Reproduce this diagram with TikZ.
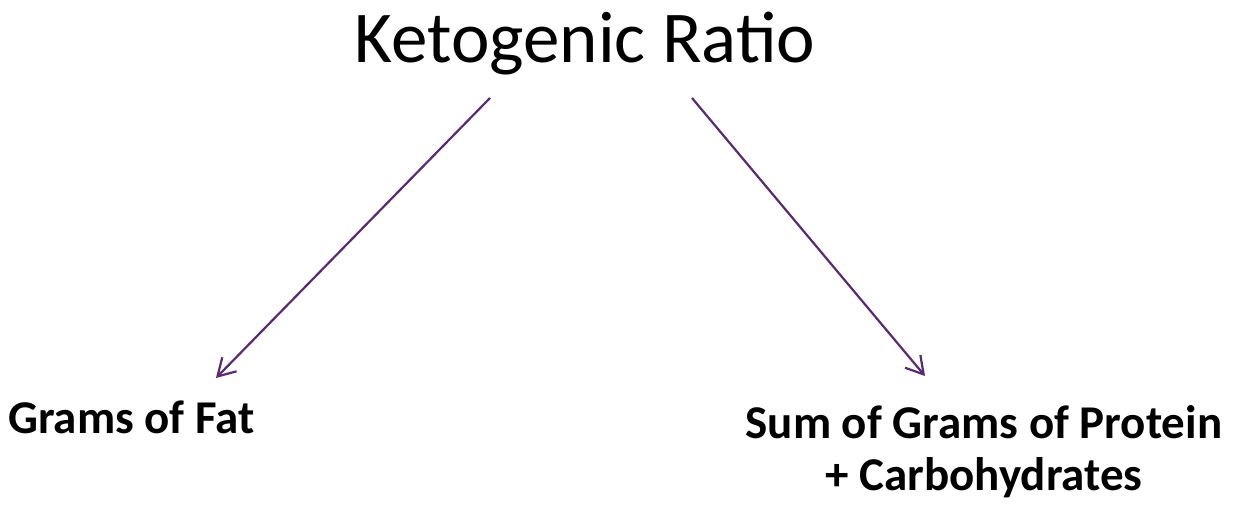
\documentclass[tikz,border=0pt]{standalone}
\usepackage{fontspec}
\setmainfont{Carlito}
\usetikzlibrary{arrows.meta}
\definecolor{arrowpurple}{HTML}{582A72}
\tikzset{
  conn/.style={draw=arrowpurple, line width=2.2pt, -{Straight Barb[length=17pt,width=20pt,line width=2.2pt]}},
  lbl/.style={font=\fontsize{47}{52}\selectfont\bfseries, inner sep=0pt, align=center},
  ttl/.style={font=\fontsize{73}{80}\selectfont, inner sep=0pt}
}
\begin{document}
\begin{tikzpicture}[x=1pt,y=-1pt]
\useasboundingbox (0,0) rectangle (1240,505);
\node[ttl, anchor=base] (title) at (585,63) {Ketogenic Ratio};
\node[lbl, anchor=base west] (fat) at (8,433) {Grams of Fat};
\node[lbl, anchor=base, align=center] (sum) at (984,490) {Sum of Grams of Protein\\+ Carbohydrates};
\coordinate (s1) at (490,98);
\coordinate (e1) at (216,378);
\coordinate (s2) at (692,98);
\coordinate (e2) at (925,376);
\draw[conn] (s1) -- (e1);
\draw[conn] (s2) -- (e2);
\end{tikzpicture}
\end{document}
